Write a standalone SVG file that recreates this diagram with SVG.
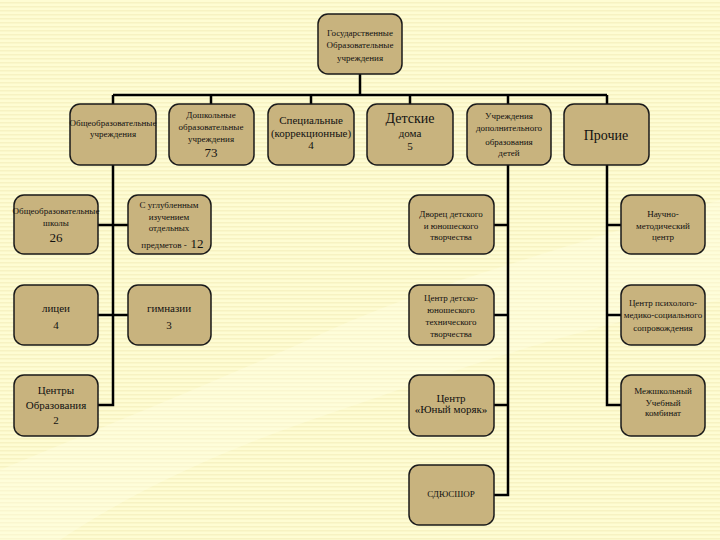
<svg xmlns="http://www.w3.org/2000/svg" width="720" height="540" viewBox="0 0 720 540">
<defs>
<pattern id="stripes" width="8" height="4" patternUnits="userSpaceOnUse">
<rect width="8" height="4" fill="#FEFCD3"/>
<rect y="2" width="8" height="1.5" fill="#F7F2C2"/>
</pattern>
<style>
.box{fill:#C8B37E;stroke:#1a1a1a;stroke-width:1.5}
.ln{fill:none;stroke:#000;stroke-width:2.5}
.t{font-family:'Liberation Serif',serif;fill:#111;text-anchor:middle;font-weight:normal}
.s{font-size:9px}
.m{font-size:11px}
.l{font-size:13px}
.xl{font-size:14px}
</style>
</defs>
<rect width="720" height="540" fill="url(#stripes)"/>
<path d="M0 470 C120 420 220 380 330 330 C420 290 520 260 720 200 L720 300 C560 330 430 380 340 410 C250 440 150 480 60 540 L0 540 Z" fill="#FFFEE8" opacity="0.35"/>
<g id="connectors">
<path class="ln" d="M360 74 V95 M113 95 H607 M113 95 V104 M211 95 V104 M311 95 V104 M410 95 V104 M508 95 V104 M607 95 V104"/>
<path class="ln" d="M113 165 V405 H98 M98 225 H128 M98 315 H128"/>
<path class="ln" d="M508 165 V495 H494 M494 225 H508 M494 315 H508 M494 405 H508"/>
<path class="ln" d="M607 165 V405 H621 M607 225 H621 M607 315 H621"/>
</g>
<g id="n-root"><rect class="box" x="318" y="14" width="84" height="60" rx="10"/>
<text class="t s" font-family="Liberation Serif"><tspan x="360" y="36">Государственные</tspan><tspan x="360" y="48">Образовательные</tspan><tspan x="360" y="61">учреждения</tspan></text></g>
<g id="n-obsh"><rect class="box" x="70" y="104" width="86" height="61" rx="10"/>
<text class="t s" font-family="Liberation Serif"><tspan x="113" y="126">Общеобразовательные</tspan><tspan x="113" y="137">учреждения</tspan></text></g>
<g id="n-dosh"><rect class="box" x="169" y="104" width="85" height="61" rx="10"/>
<text class="t s" font-family="Liberation Serif"><tspan x="211" y="118">Дошкольные</tspan><tspan x="211" y="130">образовательные</tspan><tspan x="211" y="142">учреждения</tspan></text>
<text class="t l" font-family="Liberation Serif" x="211" y="157">73</text></g>
<g id="n-spec"><rect class="box" x="268" y="104" width="86" height="61" rx="10"/>
<text class="t m" font-family="Liberation Serif"><tspan x="311" y="124">Специальные</tspan><tspan x="311" y="137">(коррекционные)</tspan><tspan x="311" y="149">4</tspan></text></g>
<g id="n-det"><rect class="box" x="367" y="104" width="86" height="61" rx="10"/>
<text class="t xl" font-family="Liberation Serif" x="410" y="123">Детские</text>
<text class="t m" font-family="Liberation Serif"><tspan x="410" y="137">дома</tspan><tspan x="410" y="150">5</tspan></text></g>
<g id="n-dop"><rect class="box" x="467" y="104" width="84" height="61" rx="10"/>
<text class="t s" font-family="Liberation Serif"><tspan x="509" y="119">Учреждения</tspan><tspan x="509" y="131">дополнительного</tspan><tspan x="509" y="145">образования</tspan><tspan x="509" y="156">детей</tspan></text></g>
<g id="n-proch"><rect class="box" x="564" y="104" width="85" height="61" rx="10"/>
<text class="t xl" font-family="Liberation Serif" x="606" y="140">Прочие</text></g>
<g id="n-shk"><rect class="box" x="14" y="195" width="84" height="59" rx="10"/>
<text class="t s" font-family="Liberation Serif"><tspan x="56" y="214">Общеобразовательные</tspan><tspan x="56" y="226">школы</tspan></text>
<text class="t l" font-family="Liberation Serif" x="56" y="242">26</text></g>
<g id="n-uglub"><rect class="box" x="128" y="195" width="83" height="59" rx="10"/>
<text class="t s" font-family="Liberation Serif"><tspan x="169" y="208">С углубленным</tspan><tspan x="169" y="220">изучением</tspan><tspan x="169" y="231">отдельных</tspan><tspan x="164" y="248">предметов - </tspan></text>
<text class="t l" font-family="Liberation Serif" x="197" y="248">12</text></g>
<g id="n-licei"><rect class="box" x="14" y="285" width="84" height="60" rx="10"/>
<text class="t m" font-family="Liberation Serif"><tspan x="56" y="312">лицеи</tspan><tspan x="56" y="329">4</tspan></text></g>
<g id="n-gimn"><rect class="box" x="128" y="285" width="83" height="60" rx="10"/>
<text class="t m" font-family="Liberation Serif"><tspan x="169" y="312">гимназии</tspan><tspan x="169" y="329">3</tspan></text></g>
<g id="n-centry"><rect class="box" x="14" y="375" width="84" height="61" rx="10"/>
<text class="t m" font-family="Liberation Serif"><tspan x="56" y="394">Центры</tspan><tspan x="56" y="409">Образования</tspan><tspan x="56" y="424">2</tspan></text></g>
<g id="n-dvorec"><rect class="box" x="409" y="195" width="85" height="59" rx="10"/>
<text class="t s" font-family="Liberation Serif"><tspan x="451" y="217">Дворец детского</tspan><tspan x="451" y="229">и юношеского</tspan><tspan x="451" y="240">творчества</tspan></text></g>
<g id="n-tech"><rect class="box" x="409" y="285" width="85" height="60" rx="10"/>
<text class="t s" font-family="Liberation Serif"><tspan x="451" y="301">Центр детско-</tspan><tspan x="451" y="313">юношеского</tspan><tspan x="451" y="325">технического</tspan><tspan x="451" y="337">творчества</tspan></text></g>
<g id="n-moryak"><rect class="box" x="409" y="375" width="85" height="61" rx="10"/>
<text class="t m" font-family="Liberation Serif"><tspan x="451" y="402">Центр</tspan><tspan x="451" y="413">«Юный моряк»</tspan></text></g>
<g id="n-sdush"><rect class="box" x="409" y="465" width="85" height="60" rx="10"/>
<text class="t s" font-family="Liberation Serif" x="451" y="497">СДЮСШОР</text></g>
<g id="n-nauch"><rect class="box" x="621" y="195" width="84" height="59" rx="10"/>
<text class="t s" font-family="Liberation Serif"><tspan x="663" y="217">Научно-</tspan><tspan x="663" y="229">методический</tspan><tspan x="663" y="240">центр</tspan></text></g>
<g id="n-psych"><rect class="box" x="621" y="285" width="84" height="60" rx="10"/>
<text class="t s" font-family="Liberation Serif"><tspan x="663" y="306">Центр психолого-</tspan><tspan x="663" y="318">медико-социального</tspan><tspan x="663" y="331">сопровождения</tspan></text></g>
<g id="n-mezh"><rect class="box" x="621" y="375" width="84" height="61" rx="10"/>
<text class="t s" font-family="Liberation Serif"><tspan x="663" y="394">Межшкольный</tspan><tspan x="663" y="406">Учебный</tspan><tspan x="663" y="416">комбинат</tspan></text></g>
</svg>
